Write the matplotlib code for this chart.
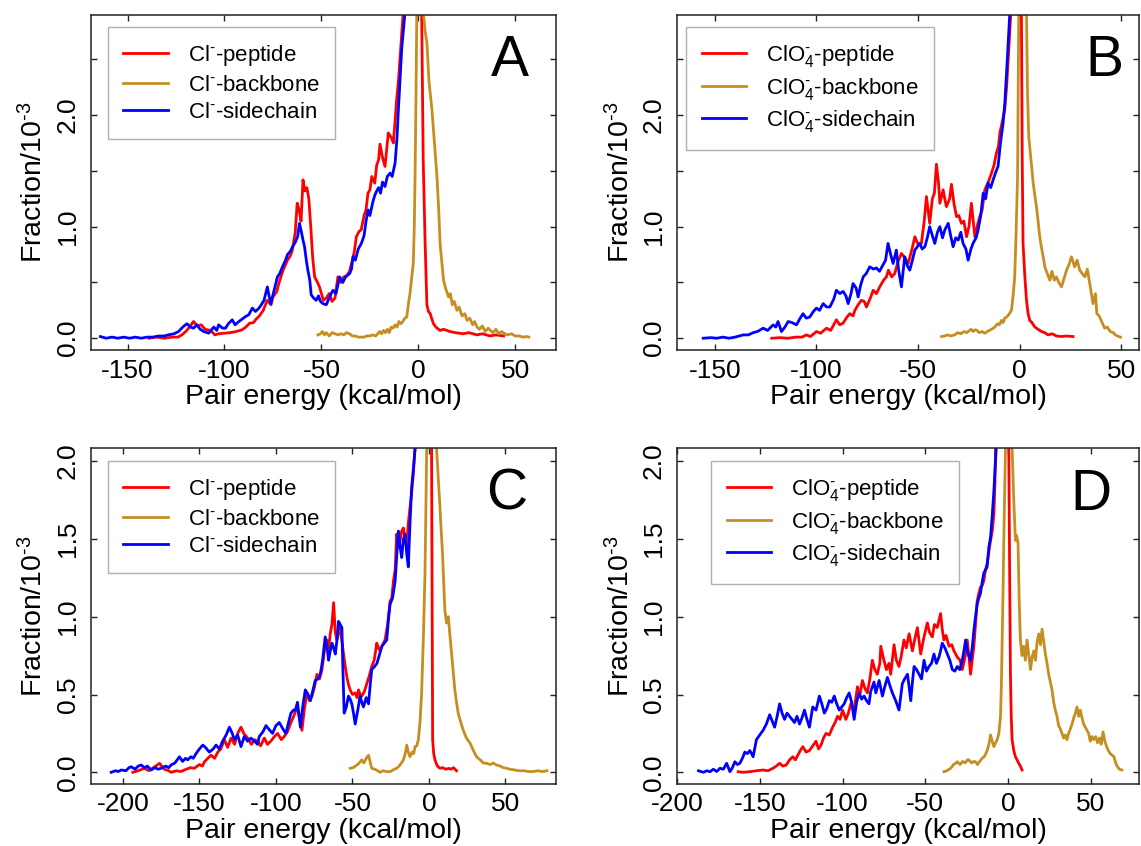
import numpy as np
import matplotlib.pyplot as plt

plt.rcParams['font.family'] = ['Liberation Sans', 'DejaVu Sans']
plt.rcParams['mathtext.fontset'] = 'custom'
plt.rcParams['mathtext.rm'] = 'Liberation Sans'
plt.rcParams['mathtext.it'] = 'Liberation Sans:italic'
plt.rcParams['mathtext.bf'] = 'Liberation Sans:bold'

# pair energy (kcal/mol), fraction/1e-3
a_peptide = np.array([
    [-139, 0.00], [-135, 0.01], [-131, 0.00], [-127, 0.01], [-124, 0.01], [-122, 0.03], [-120, 0.06],
    [-118, 0.10], [-116, 0.15], [-114, 0.11], [-112, 0.12], [-110, 0.08], [-107, 0.07], [-105, 0.03],
    [-103, 0.04], [-100, 0.045], [-97, 0.05], [-94, 0.06], [-91, 0.075], [-89, 0.10], [-87, 0.135],
    [-85, 0.14], [-84, 0.165], [-82, 0.20], [-80, 0.25], [-78, 0.34], [-76, 0.30], [-75, 0.37],
    [-73, 0.42], [-72, 0.49], [-70, 0.60], [-69, 0.64], [-67.5, 0.70], [-66, 0.74], [-65, 0.79],
    [-63.5, 0.95], [-62.5, 1.21], [-61.5, 1.15], [-60.5, 1.05], [-59.5, 1.42], [-58.5, 1.32],
    [-57.5, 1.35], [-56.5, 1.25], [-55.5, 1.00], [-54.5, 0.72], [-53.5, 0.55], [-52, 0.50],
    [-51, 0.46], [-50, 0.40], [-49, 0.34], [-47.5, 0.36], [-46, 0.40], [-44.5, 0.33], [-43, 0.36],
    [-41.5, 0.55], [-40, 0.50], [-38.5, 0.55], [-37, 0.56], [-35.5, 0.60], [-34, 0.70], [-33, 0.78],
    [-32, 0.91], [-30.5, 0.96], [-29.5, 0.97], [-28, 1.10], [-27, 1.15], [-26, 1.30], [-25, 1.33],
    [-24, 1.45], [-22.5, 1.39], [-21.5, 1.55], [-20.5, 1.60], [-19.8, 1.74], [-18.5, 1.62],
    [-17.2, 1.54], [-16.3, 1.70], [-15.5, 1.84], [-14, 1.80], [-12.9, 1.75], [-12, 1.95],
    [-11.2, 2.14], [-10.3, 2.30], [-9.5, 2.50], [-8.5, 2.75], [-7.8, 2.92], [-5, 3.6], [0, 5.0],
    [1.0, 4.0], [1.7, 2.92], [2.5, 1.6], [3.5, 0.85], [4.4, 0.30], [5.2, 0.24], [6.1, 0.22],
    [7, 0.17], [7.8, 0.13], [9, 0.10], [11.2, 0.07], [13, 0.08], [16.3, 0.06], [19, 0.05],
    [23.3, 0.04], [26, 0.05], [30.2, 0.03], [33, 0.04], [37, 0.02], [40, 0.03], [44, 0.02]])

a_backbone = np.array([
    [-51.8, 0.03], [-50.5, 0.04], [-49.5, 0.06], [-48.5, 0.03], [-47.5, 0.05], [-46, 0.02],
    [-44.5, 0.05], [-43, 0.04], [-41.5, 0.03], [-40, 0.04], [-38.5, 0.03], [-37, 0.05], [-35.5, 0.04],
    [-34, 0.02], [-32.5, 0.02], [-31, 0.01], [-29.5, 0.01], [-28, 0.01], [-26.5, 0.02], [-25, 0.02],
    [-23.5, 0.03], [-22, 0.02], [-21, 0.04], [-20, 0.06], [-19, 0.04], [-18, 0.07], [-17, 0.05],
    [-16, 0.08], [-15, 0.05], [-14, 0.10], [-13, 0.09], [-12, 0.12], [-11, 0.10], [-10, 0.15],
    [-9, 0.13], [-8, 0.15], [-7, 0.18], [-6, 0.19], [-5.2, 0.30], [-4.3, 0.40], [-3.4, 0.55],
    [-2.6, 0.67], [-2.1, 1.0], [-1.7, 1.45], [-1.2, 2.2], [-0.8, 2.92], [0.5, 4.0], [2.0, 3.5],
    [2.6, 2.92], [3.5, 2.75], [4.4, 2.65], [5.5, 2.30], [7.0, 2.05], [8.3, 1.75], [9.6, 1.45],
    [10.5, 1.15], [11.2, 0.85], [12, 0.70], [13, 0.52], [14, 0.45], [15.6, 0.37], [16.5, 0.40],
    [17.5, 0.30], [18.5, 0.33], [19.9, 0.25], [21, 0.28], [22.5, 0.20], [24, 0.22], [25.1, 0.16],
    [26.5, 0.18], [28, 0.12], [29, 0.15], [30.3, 0.10], [31.5, 0.08], [33, 0.11], [34.5, 0.06],
    [36, 0.09], [37.1, 0.07], [38.5, 0.05], [40, 0.08], [41.5, 0.04], [43, 0.06], [44, 0.045],
    [46, 0.03], [48, 0.04], [50, 0.02], [52, 0.02], [54, 0.01], [56, 0.015], [57, 0.01]])

a_sidechain = np.array([
    [-164, 0.015], [-161, 0.0], [-158, 0.01], [-155, 0.0], [-152, 0.01], [-149, 0.0], [-146, 0.01],
    [-143, 0.0], [-140, 0.01], [-137, 0.01], [-134, 0.02], [-131, 0.02], [-129, 0.03], [-126, 0.04],
    [-123.7, 0.06], [-121.5, 0.10], [-119.4, 0.13], [-117.5, 0.10], [-116, 0.09], [-114.2, 0.12],
    [-112.5, 0.08], [-110.7, 0.06], [-108.1, 0.045], [-106.5, 0.08], [-105.5, 0.10], [-104, 0.07],
    [-103, 0.12], [-101, 0.09], [-99.5, 0.09], [-98, 0.13], [-96, 0.165], [-94.5, 0.12],
    [-92.6, 0.15], [-91, 0.17], [-89.1, 0.195], [-87.5, 0.21], [-85.6, 0.27], [-84, 0.24],
    [-82.2, 0.27], [-81, 0.30], [-79.6, 0.34], [-77.9, 0.46], [-77, 0.38], [-76.1, 0.31],
    [-74.4, 0.43], [-72.7, 0.55], [-71.5, 0.58], [-70.1, 0.64], [-68.5, 0.70], [-67.5, 0.75],
    [-66, 0.78], [-64.9, 0.82], [-63.5, 0.86], [-62.3, 0.91], [-61.3, 1.03], [-60.3, 0.95],
    [-59.5, 0.88], [-58.7, 0.82], [-57.8, 0.70], [-57, 0.61], [-56, 0.52], [-55.3, 0.39],
    [-54, 0.36], [-52.7, 0.34], [-51.5, 0.38], [-50.5, 0.33], [-49.2, 0.31], [-47.5, 0.30],
    [-46, 0.36], [-45, 0.40], [-44, 0.43], [-42.5, 0.40], [-40.6, 0.55], [-39, 0.50], [-37.5, 0.55],
    [-35.4, 0.58], [-34.5, 0.62], [-33.7, 0.73], [-32.5, 0.70], [-31, 0.80], [-29.4, 0.85],
    [-28, 0.92], [-27, 1.05], [-25.9, 1.15], [-25, 1.10], [-23.5, 1.22], [-22.5, 1.28],
    [-21.5, 1.32], [-20.5, 1.35], [-19.5, 1.30], [-18.5, 1.40], [-17.2, 1.36], [-16, 1.45],
    [-14.6, 1.48], [-13.5, 1.45], [-12, 1.57], [-11, 1.80], [-10.3, 2.05], [-9.5, 2.30],
    [-8.6, 2.59], [-6.9, 2.92], [-5, 3.5]])

b_peptide = np.array([
    [-122, 0.0], [-118, 0.005], [-114, 0.0], [-110, 0.01], [-107, 0.01], [-105, 0.03], [-103, 0.015],
    [-100, 0.06], [-98, 0.045], [-95, 0.09], [-93, 0.07], [-90.2, 0.165], [-88.5, 0.12],
    [-86.9, 0.135], [-85, 0.19], [-83.6, 0.22], [-82, 0.20], [-81.1, 0.25], [-79.5, 0.30],
    [-77.9, 0.34], [-76.5, 0.33], [-75.4, 0.28], [-73.5, 0.36], [-72.1, 0.43], [-70.5, 0.40],
    [-68.9, 0.46], [-67, 0.52], [-65.6, 0.55], [-64.6, 0.61], [-63, 0.55], [-61.5, 0.58], [-60, 0.68],
    [-58.2, 0.76], [-56.5, 0.72], [-54.9, 0.67], [-53, 0.80], [-51.6, 0.91], [-50, 0.84],
    [-48.4, 0.85], [-47, 1.05], [-45.9, 1.27], [-44.3, 1.03], [-43, 1.25], [-42, 1.30], [-41, 1.56],
    [-40, 1.40], [-39.3, 1.21], [-37.7, 1.33], [-36.9, 1.25], [-36.1, 1.18], [-34.5, 1.25],
    [-33.6, 1.38], [-32.3, 1.20], [-31.1, 1.09], [-30, 1.10], [-28.7, 1.03], [-27.5, 1.05],
    [-26.2, 0.91], [-25, 1.00], [-23.8, 1.21], [-22.1, 0.91], [-21, 1.00], [-19.7, 1.09],
    [-18.5, 1.15], [-17.2, 1.33], [-15.5, 1.40], [-13.9, 1.48], [-12.7, 1.55], [-11.5, 1.66],
    [-10.5, 1.72], [-9.8, 1.84], [-8.5, 1.95], [-7.4, 2.05], [-6.5, 2.25], [-5.7, 2.50],
    [-4.4, 2.92], [-2, 3.8], [0, 4.5], [0.8, 2.92], [1.2, 1.6], [1.6, 0.85], [2.5, 0.55],
    [3.3, 0.34], [4.1, 0.22], [4.9, 0.16], [6, 0.14], [7.4, 0.10], [9, 0.08], [10.7, 0.06],
    [12.3, 0.05], [13.9, 0.03], [16, 0.04], [18, 0.02], [20.5, 0.015], [23, 0.02], [26.2, 0.015]])

b_backbone = np.array([
    [-38.5, 0.015], [-37, 0.02], [-35.5, 0.03], [-34, 0.02], [-32, 0.03], [-30.5, 0.05], [-29, 0.04],
    [-27.5, 0.06], [-26, 0.05], [-25.4, 0.06], [-24, 0.08], [-23, 0.06], [-22.1, 0.075], [-21, 0.07],
    [-20, 0.05], [-18.5, 0.06], [-17.2, 0.045], [-16, 0.06], [-15, 0.07], [-14, 0.08], [-13, 0.09],
    [-12.3, 0.10], [-11, 0.13], [-10, 0.12], [-9, 0.16], [-8.2, 0.14], [-7.4, 0.18], [-6.5, 0.19],
    [-5.5, 0.21], [-4.1, 0.25], [-3.3, 0.38], [-2.5, 0.55], [-1.8, 0.95], [-1.1, 1.45],
    [-0.5, 2.92], [1.5, 4.0], [3.3, 2.92], [3.8, 2.2], [4.4, 1.81], [5.5, 1.60], [6.6, 1.39],
    [7.4, 1.28], [8.2, 1.18], [9.0, 1.05], [9.8, 0.91], [10.8, 0.80], [11.6, 0.72], [12.3, 0.64],
    [13.5, 0.58], [14.8, 0.52], [15.8, 0.60], [17, 0.52], [18, 0.55], [19.2, 0.50], [20.5, 0.46],
    [21.5, 0.52], [23, 0.61], [24.2, 0.66], [25.4, 0.73], [26.3, 0.68], [27, 0.64], [28.2, 0.70],
    [29.5, 0.61], [30.7, 0.58], [32, 0.55], [33.2, 0.62], [34.5, 0.48], [36, 0.31], [37.2, 0.40],
    [37.9, 0.22], [39, 0.20], [40.5, 0.14], [41.7, 0.09], [43, 0.10], [44.5, 0.06], [46, 0.05],
    [47, 0.03], [48, 0.02], [49.5, 0.01]])

b_sidechain = np.array([
    [-155.7, 0.0], [-152, 0.005], [-149, 0.0], [-146, 0.01], [-143, 0.0], [-140, 0.01], [-138, 0.02],
    [-136, 0.03], [-133.5, 0.03], [-131.1, 0.05], [-129, 0.06], [-126.2, 0.09], [-124, 0.07],
    [-121.3, 0.12], [-120, 0.10], [-118.9, 0.15], [-117.2, 0.06], [-115.5, 0.10], [-113.9, 0.15],
    [-112, 0.14], [-109.8, 0.12], [-108, 0.18], [-106.6, 0.22], [-105, 0.18], [-103.3, 0.19],
    [-101.5, 0.24], [-100, 0.27], [-98.5, 0.25], [-96.7, 0.31], [-95, 0.28], [-93.4, 0.28],
    [-91.5, 0.35], [-90.2, 0.43], [-88.5, 0.40], [-86.9, 0.42], [-85.5, 0.38], [-84.4, 0.31],
    [-83, 0.40], [-82, 0.49], [-80.5, 0.45], [-79.5, 0.37], [-78.2, 0.48], [-77, 0.55],
    [-75.5, 0.58], [-73.8, 0.64], [-72, 0.62], [-70.5, 0.63], [-69, 0.60], [-67.2, 0.66],
    [-66, 0.70], [-64.8, 0.85], [-63.5, 0.75], [-62.3, 0.67], [-60.7, 0.79], [-59.5, 0.60],
    [-58.2, 0.46], [-56.6, 0.73], [-55.3, 0.65], [-54.1, 0.61], [-52.8, 0.70], [-51.6, 0.79],
    [-50.4, 0.82], [-49.2, 0.85], [-48, 0.80], [-46.7, 0.82], [-45.5, 0.90], [-44.3, 1.00],
    [-43, 0.92], [-41.8, 0.85], [-40.5, 0.95], [-39.3, 1.00], [-38, 0.90], [-36.9, 0.97],
    [-35.2, 1.03], [-34, 0.92], [-32.8, 0.82], [-31.5, 0.90], [-30.3, 0.88], [-29, 0.95],
    [-27.9, 0.85], [-26.5, 0.80], [-25.4, 0.70], [-24, 0.80], [-23, 0.85], [-21.5, 0.90],
    [-20.5, 0.97], [-19.2, 1.10], [-18, 1.30], [-16.8, 1.25], [-15.6, 1.39], [-14.3, 1.35],
    [-13.1, 1.42], [-12, 1.48], [-10.7, 1.54], [-9.5, 1.75], [-8.2, 1.93], [-7.4, 2.10],
    [-6.6, 2.35], [-5.7, 2.65], [-4.9, 2.92], [-3.5, 3.6]])

c_peptide = np.array([
    [-193.5, 0.0], [-190, 0.01], [-186, 0.026], [-183, 0.01], [-180, 0.03], [-176, 0.058],
    [-173, 0.02], [-170, 0.01], [-168.5, 0.0], [-165, 0.01], [-162, 0.005], [-159.8, 0.015],
    [-156, 0.03], [-153.3, 0.026], [-150, 0.05], [-148, 0.04], [-146.7, 0.068], [-144.5, 0.09],
    [-142.4, 0.11], [-140, 0.09], [-138, 0.13], [-136, 0.15], [-133.7, 0.21], [-131.5, 0.16],
    [-129.3, 0.22], [-127, 0.18], [-125, 0.25], [-122.8, 0.29], [-121, 0.25], [-118.5, 0.22],
    [-116, 0.18], [-114, 0.21], [-112, 0.20], [-110, 0.17], [-107.6, 0.22], [-105.5, 0.18],
    [-103.3, 0.20], [-101, 0.23], [-98.9, 0.25], [-96.5, 0.21], [-94.6, 0.23], [-92.5, 0.26],
    [-90.6, 0.31], [-88.4, 0.36], [-86.2, 0.42], [-84.6, 0.35], [-83, 0.27], [-81.5, 0.40],
    [-79.7, 0.51], [-78, 0.46], [-76.4, 0.49], [-74.8, 0.55], [-73.2, 0.63], [-71.5, 0.60],
    [-69.9, 0.66], [-68.3, 0.78], [-66.7, 0.85], [-65.5, 0.80], [-64.5, 0.89], [-63.4, 0.95],
    [-62.3, 1.09], [-61.2, 0.90], [-60.2, 0.85], [-59, 0.90], [-58, 0.93], [-57, 0.85],
    [-55.8, 0.76], [-54.7, 0.68], [-53.6, 0.61], [-52.5, 0.56], [-51.5, 0.53], [-50, 0.50],
    [-48.2, 0.51], [-47, 0.48], [-46, 0.53], [-45, 0.50], [-43.9, 0.49], [-42.2, 0.52],
    [-40.6, 0.57], [-39, 0.62], [-37.4, 0.68], [-35.8, 0.72], [-34.1, 0.83], [-33, 0.80],
    [-31.9, 0.78], [-30.3, 0.82], [-28.7, 0.85], [-27, 0.95], [-25.4, 1.10], [-24.3, 1.12],
    [-23.2, 1.23], [-22.1, 1.30], [-21.1, 1.53], [-20, 1.45], [-18.9, 1.49], [-17.8, 1.55],
    [-16.7, 1.57], [-15.6, 1.50], [-14.5, 1.45], [-13.5, 1.60], [-12.4, 1.70], [-11.3, 1.80],
    [-10.2, 1.92], [-9.1, 2.08], [-5, 3.2], [0, 4.0], [1.2, 3.0], [1.7, 2.08], [2.1, 1.0],
    [2.4, 0.21], [3.1, 0.12], [3.9, 0.08], [5.5, 0.04], [7.2, 0.026], [9, 0.03], [11, 0.02],
    [13, 0.025], [14.5, 0.02], [16, 0.03], [18, 0.01]])

c_backbone = np.array([
    [-51.5, 0.026], [-49.5, 0.03], [-47.1, 0.047], [-45.5, 0.06], [-43.9, 0.08], [-42.5, 0.06],
    [-41, 0.09], [-39.5, 0.11], [-38.5, 0.07], [-37.4, 0.026], [-35.5, 0.02], [-33.5, 0.01],
    [-31.9, 0.0], [-30, 0.01], [-28, 0.005], [-25.4, 0.004], [-23.5, 0.015], [-21.1, 0.026],
    [-19.5, 0.04], [-18, 0.06], [-16.7, 0.08], [-15.5, 0.12], [-14.5, 0.175], [-13.5, 0.13],
    [-12.4, 0.10], [-11, 0.13], [-10, 0.12], [-9.1, 0.165], [-8, 0.17], [-6.9, 0.21], [-5.8, 0.33],
    [-4.8, 0.51], [-3.7, 0.85], [-2.6, 1.28], [-2.0, 1.70], [-1.5, 2.08], [1.5, 4.0], [5.0, 2.08],
    [6.0, 1.90], [7.2, 1.70], [8.0, 1.55], [8.9, 1.40], [9.7, 1.20], [10.4, 1.04], [11.5, 0.96],
    [12.6, 1.00], [13.7, 0.88], [14.8, 0.76], [15.8, 0.65], [16.9, 0.53], [18, 0.45], [19.1, 0.38],
    [20.5, 0.33], [22.4, 0.27], [24.5, 0.22], [26.7, 0.19], [29, 0.14], [31.1, 0.10], [33.5, 0.08],
    [35.5, 0.06], [37.6, 0.058], [40, 0.05], [42, 0.06], [44.1, 0.047], [46.5, 0.04], [48.5, 0.03],
    [50.6, 0.026], [53, 0.02], [56, 0.015], [59, 0.01], [62, 0.01], [65, 0.005], [68, 0.005],
    [71, 0.01], [74, 0.005], [77, 0.01]])

c_sidechain = np.array([
    [-207.6, 0.0], [-205, 0.01], [-203, 0.005], [-201, 0.015], [-198, 0.01], [-196, 0.03],
    [-194.6, 0.036], [-192, 0.02], [-190, 0.04], [-188, 0.047], [-186, 0.03], [-184, 0.04],
    [-181.5, 0.015], [-179, 0.03], [-177, 0.02], [-175, 0.026], [-172, 0.04], [-170, 0.03],
    [-168.5, 0.047], [-166, 0.06], [-164.5, 0.08], [-163, 0.10], [-161, 0.07], [-159, 0.09],
    [-157.6, 0.08], [-155.5, 0.10], [-154, 0.09], [-152.2, 0.12], [-150, 0.15], [-147.8, 0.175],
    [-146, 0.16], [-143.5, 0.13], [-141, 0.15], [-139.1, 0.175], [-137, 0.15], [-134.8, 0.20],
    [-132.5, 0.24], [-130.4, 0.29], [-128.5, 0.25], [-127.2, 0.21], [-125, 0.24], [-122.8, 0.165],
    [-120.7, 0.23], [-118.5, 0.20], [-116.3, 0.22], [-114, 0.20], [-112, 0.18], [-110.9, 0.23],
    [-108.5, 0.26], [-106.5, 0.30], [-104, 0.27], [-102.2, 0.25], [-100, 0.30], [-97.8, 0.32],
    [-95.5, 0.28], [-93.5, 0.25], [-91.5, 0.33], [-90.2, 0.38], [-88.5, 0.40], [-87.3, 0.40],
    [-85.9, 0.45], [-84, 0.29], [-82.5, 0.42], [-80.8, 0.53], [-79, 0.50], [-77.5, 0.46],
    [-76, 0.52], [-74.3, 0.59], [-72.5, 0.60], [-71, 0.63], [-69.5, 0.72], [-67.8, 0.87],
    [-66.5, 0.80], [-65.6, 0.72], [-64.5, 0.78], [-63.4, 0.83], [-62.3, 0.80], [-61.2, 0.76],
    [-60.1, 0.85], [-59.1, 0.97], [-58, 0.95], [-56.9, 0.93], [-56.2, 0.65], [-55.4, 0.38],
    [-54, 0.42], [-52.6, 0.49], [-51.5, 0.47], [-50.4, 0.44], [-49.3, 0.38], [-48.2, 0.31],
    [-46.5, 0.40], [-45, 0.49], [-43.9, 0.45], [-42.8, 0.42], [-41, 0.48], [-39.5, 0.44],
    [-38.5, 0.55], [-37.4, 0.66], [-35.5, 0.68], [-34, 0.70], [-32.5, 0.75], [-30.8, 0.81],
    [-29.2, 0.83], [-27.6, 0.85], [-26.5, 0.98], [-25.4, 1.08], [-23.8, 1.12], [-22.1, 1.23],
    [-21, 1.40], [-20, 1.55], [-18.9, 1.45], [-17.8, 1.38], [-16.7, 1.50], [-15.6, 1.53],
    [-14.5, 1.40], [-13.5, 1.32], [-12.4, 1.60], [-11.3, 1.83], [-10.2, 1.95], [-9.1, 2.08],
    [-7, 2.8]])

d_peptide = np.array([
    [-163, 0.004], [-160, 0.0], [-156, 0.004], [-152, 0.01], [-148, 0.015], [-145, 0.01],
    [-142, 0.026], [-140, 0.04], [-138, 0.058], [-136, 0.04], [-134, 0.047], [-132, 0.08],
    [-130, 0.10], [-128.5, 0.08], [-127, 0.11], [-125.5, 0.14], [-124, 0.165], [-122, 0.13],
    [-120, 0.14], [-118, 0.17], [-116, 0.20], [-114.5, 0.15], [-113, 0.175], [-111.5, 0.22],
    [-110, 0.25], [-108, 0.24], [-106, 0.29], [-104.5, 0.32], [-103, 0.36], [-101.5, 0.34],
    [-100, 0.40], [-98, 0.34], [-96.5, 0.38], [-95, 0.44], [-93, 0.40], [-91, 0.55], [-89.5, 0.50],
    [-88, 0.59], [-86.5, 0.54], [-85, 0.51], [-83.5, 0.60], [-82, 0.72], [-80.5, 0.66], [-79, 0.63],
    [-77.5, 0.70], [-76.9, 0.81], [-75, 0.72], [-73.5, 0.66], [-72, 0.70], [-70.9, 0.63],
    [-68.9, 0.82], [-67.5, 0.72], [-65.9, 0.68], [-64.5, 0.75], [-62.9, 0.85], [-61.5, 0.80],
    [-59.8, 0.89], [-57.8, 0.78], [-56.5, 0.85], [-54.8, 0.93], [-52.8, 0.76], [-51, 0.86],
    [-48.8, 0.96], [-47.5, 0.90], [-45.8, 0.87], [-44.5, 0.95], [-42.8, 0.93], [-40.8, 1.02],
    [-39.8, 0.92], [-38.8, 0.85], [-37.5, 0.88], [-35.7, 0.81], [-34, 0.82], [-32.7, 0.78],
    [-30.7, 0.74], [-29, 0.72], [-27.7, 0.66], [-26, 0.74], [-24.7, 0.85], [-23.7, 0.75],
    [-22.7, 0.63], [-21.7, 0.72], [-20.7, 0.81], [-19.7, 0.95], [-18.7, 1.10], [-17.7, 1.15],
    [-16.7, 1.19], [-15.7, 1.20], [-14.7, 1.23], [-13.7, 1.30], [-12.7, 1.34], [-11.6, 1.42],
    [-10.6, 1.49], [-9.6, 1.55], [-8.6, 1.66], [-8.0, 1.85], [-7.6, 2.08], [-4, 3.5], [0, 4.5],
    [0.4, 2.08], [0.9, 1.30], [1.4, 0.63], [1.9, 0.35], [2.4, 0.21], [3.4, 0.14], [4.4, 0.10],
    [5.4, 0.08], [6.4, 0.058], [7.4, 0.04], [8.4, 0.015]])

d_backbone = np.array([
    [-38.8, 0.004], [-37, 0.01], [-34.7, 0.026], [-33, 0.05], [-31.5, 0.06], [-30.7, 0.068],
    [-29, 0.05], [-27.5, 0.07], [-26, 0.06], [-24.5, 0.08], [-23.7, 0.08], [-22, 0.06],
    [-20.7, 0.07], [-19.7, 0.068], [-18.5, 0.05], [-17.2, 0.07], [-15.7, 0.09], [-14.5, 0.10],
    [-13.5, 0.12], [-12.7, 0.14], [-11.6, 0.18], [-10.6, 0.24], [-9.6, 0.20], [-8.6, 0.165],
    [-7.6, 0.19], [-6.6, 0.21], [-5.6, 0.25], [-4.6, 0.36], [-4.1, 0.55], [-3.6, 0.85],
    [-3.1, 1.15], [-2.6, 1.49], [-2.1, 1.8], [-1.6, 2.08], [0.5, 4.0], [2.4, 2.08], [3.4, 1.75],
    [4.4, 1.49], [5.2, 1.52], [6, 1.47], [6.7, 1.10], [7.4, 0.85], [8.4, 0.75], [9.4, 0.81],
    [10.4, 0.72], [11.4, 0.85], [12.4, 0.76], [13.5, 0.66], [14.5, 0.74], [15.5, 0.78],
    [16.5, 0.72], [17.5, 0.84], [18.5, 0.89], [19.5, 0.82], [20.5, 0.92], [21.5, 0.84],
    [22.5, 0.76], [23.5, 0.70], [24.5, 0.63], [25.5, 0.58], [26.5, 0.53], [27.5, 0.45],
    [28.5, 0.40], [29.5, 0.36], [30.5, 0.30], [31.5, 0.28], [32.5, 0.25], [33.5, 0.22],
    [34.5, 0.24], [35.5, 0.21], [36.5, 0.25], [37.6, 0.28], [38.6, 0.31], [39.6, 0.35],
    [40.6, 0.38], [41.6, 0.42], [42.6, 0.36], [43.6, 0.40], [44.6, 0.35], [45.6, 0.31],
    [46.6, 0.29], [47.6, 0.27], [48.6, 0.25], [49.6, 0.20], [50.6, 0.23], [51.6, 0.21],
    [52.9, 0.23], [54, 0.19], [55.2, 0.22], [56.2, 0.18], [57.3, 0.26], [58.4, 0.20],
    [59.5, 0.165], [60.5, 0.14], [61.7, 0.12], [62.8, 0.11], [63.9, 0.10], [65, 0.06],
    [66, 0.036], [67.2, 0.02], [68.7, 0.015]])

d_sidechain = np.array([
    [-187, 0.01], [-184, 0.0], [-182, 0.01], [-180, 0.004], [-178, 0.02], [-176, 0.005],
    [-174, 0.026], [-172, 0.02], [-170, 0.058], [-168, 0.004], [-166.5, 0.03], [-165, 0.068],
    [-163.5, 0.05], [-162, 0.058], [-160.5, 0.09], [-159, 0.13], [-157.5, 0.12], [-156, 0.14],
    [-154, 0.10], [-152, 0.21], [-150, 0.24], [-148, 0.27], [-146, 0.31], [-144, 0.37],
    [-142.5, 0.33], [-141, 0.29], [-139.5, 0.36], [-138, 0.44], [-136.5, 0.38], [-135, 0.34],
    [-133.5, 0.38], [-132, 0.36], [-130.5, 0.34], [-129, 0.32], [-127.5, 0.36], [-126, 0.31],
    [-124.5, 0.35], [-123, 0.40], [-121.5, 0.34], [-120, 0.29], [-118, 0.42], [-116, 0.40],
    [-114, 0.49], [-112.5, 0.44], [-111, 0.38], [-109.5, 0.41], [-108, 0.46], [-106.5, 0.45],
    [-105, 0.49], [-103.5, 0.44], [-102, 0.40], [-100.5, 0.42], [-99, 0.44], [-97.5, 0.48],
    [-96, 0.51], [-94.5, 0.45], [-93, 0.34], [-91.5, 0.45], [-90, 0.51], [-88.5, 0.47],
    [-87, 0.49], [-85.5, 0.46], [-84, 0.44], [-83, 0.52], [-81, 0.58], [-79.9, 0.51],
    [-77.9, 0.59], [-75.9, 0.49], [-74.5, 0.55], [-72.9, 0.61], [-71.5, 0.56], [-69.9, 0.51],
    [-67.9, 0.46], [-65.9, 0.40], [-63.9, 0.57], [-62.5, 0.60], [-60.8, 0.63], [-59.8, 0.55],
    [-58.8, 0.46], [-57.8, 0.58], [-56.8, 0.68], [-55.3, 0.66], [-53.8, 0.63], [-52.3, 0.60],
    [-50.8, 0.72], [-49.3, 0.65], [-47.8, 0.68], [-46.3, 0.70], [-44.8, 0.76], [-43.3, 0.70],
    [-41.8, 0.74], [-40.8, 0.78], [-39.8, 0.83], [-38.2, 0.80], [-36.7, 0.76], [-35.2, 0.72],
    [-33.7, 0.66], [-32.2, 0.65], [-30.7, 0.68], [-29.2, 0.66], [-27.7, 0.72], [-26.7, 0.78],
    [-25.7, 0.85], [-24.2, 0.76], [-22.7, 0.72], [-21.7, 0.80], [-20.7, 0.91], [-19.7, 1.00],
    [-18.7, 1.08], [-17.7, 1.12], [-16.7, 1.15], [-15.7, 1.22], [-14.7, 1.28], [-13.7, 1.30],
    [-12.7, 1.32], [-11.6, 1.45], [-10.6, 1.51], [-9.6, 1.65], [-8.6, 1.81], [-7.2, 2.08],
    [-5, 3.0]])

ions = ['Cl', 'ClO4', 'Cl', 'ClO4']
letters = ['A', 'B', 'C', 'D']
xlims = [(-169, 71), (-168.6, 58.6), (-221, 83), (-200, 79)]
ylims = [(-0.11, 2.9), (-0.11, 2.9), (-0.075, 2.082), (-0.075, 2.082)]
xticks = [[-150, -100, -50, 0, 50], [-150, -100, -50, 0, 50],
          [-200, -150, -100, -50, 0, 50], [-200, -150, -100, -50, 0, 50]]

red = '#ff0000'
gold = '#c68e20'
blue = '#0000ff'

ion_label = {'Cl': r'Cl$^{\text{-}}$', 'ClO4': r'ClO$_4^{\text{-}}$'}

fig = plt.figure(figsize=(11.41, 8.46), dpi=100)
boxes = [[0.0795, 0.5857, 0.4078, 0.3969], [0.5933, 0.5857, 0.4049, 0.3969],
         [0.0795, 0.0733, 0.4078, 0.3968], [0.5933, 0.0733, 0.4049, 0.3968]]
legend_pos = [(0.0365, 0.9625), (0.0195, 0.9625), (0.0365, 0.961), (0.0736, 0.961)]
letter_pos = [(0.901, 0.862), (0.925, 0.862), (0.893, 0.862), (0.897, 0.862)]
panels = [(a_peptide, a_backbone, a_sidechain), (b_peptide, b_backbone, b_sidechain),
          (c_peptide, c_backbone, c_sidechain), (d_peptide, d_backbone, d_sidechain)]

for i in range(4):
    ax = fig.add_axes(boxes[i])
    pep, bb, sc = panels[i]
    lab = ion_label[ions[i]]
    ax.plot(pep[:, 0], pep[:, 1], color=red, lw=2.0, label=lab + '-peptide')
    ax.plot(bb[:, 0], bb[:, 1], color=gold, lw=2.0, label=lab + '-backbone')
    ax.plot(sc[:, 0], sc[:, 1], color=blue, lw=2.0, label=lab + '-sidechain')
    ax.set_xlim(xlims[i])
    ax.set_ylim(ylims[i])
    ax.set_xticks(xticks[i])
    ax.set_xticklabels([str(t) for t in xticks[i]])
    if i < 2:
        yt = [0, 0.5, 1.0, 1.5, 2.0, 2.5]
        ax.set_yticks(yt)
        ax.set_yticklabels(['0.0', '', '1.0', '', '2.0', ''])
    else:
        yt = [0, 0.5, 1.0, 1.5, 2.0]
        ax.set_yticks(yt)
        ax.set_yticklabels(['%.1f' % v for v in yt])
    ax.tick_params(direction='in', length=4, width=1, top=True, right=True,
                   labelsize=19, colors='#222222', labelcolor='black')
    ax.tick_params(axis='x', pad=6)
    ax.tick_params(axis='y', pad=8)
    for t in ax.get_yticklabels():
        t.set_rotation(90)
        t.set_va('center')
        t.set_ha('right')
    for s in ax.spines.values():
        s.set_linewidth(1.1)
        s.set_color('#222222')
    ax.set_xlabel('Pair energy (kcal/mol)', fontsize=20.5, labelpad=1)
    ax.set_ylabel(r'Fraction/10$^{\text{-3}}$', fontsize=20.5, labelpad=5)
    leg = ax.legend(loc='upper left', bbox_to_anchor=legend_pos[i], borderaxespad=0,
                    fontsize=16, handlelength=2.0, handletextpad=0.9, labelspacing=0.3,
                    borderpad=0.7, fancybox=False, framealpha=1, edgecolor='#b0b0b0')
    leg.get_frame().set_linewidth(1.0)
    ax.text(letter_pos[i][0], letter_pos[i][1], letters[i], transform=ax.transAxes,
            fontsize=41, ha='center', va='center')

fig.savefig('out.png', dpi=100)
